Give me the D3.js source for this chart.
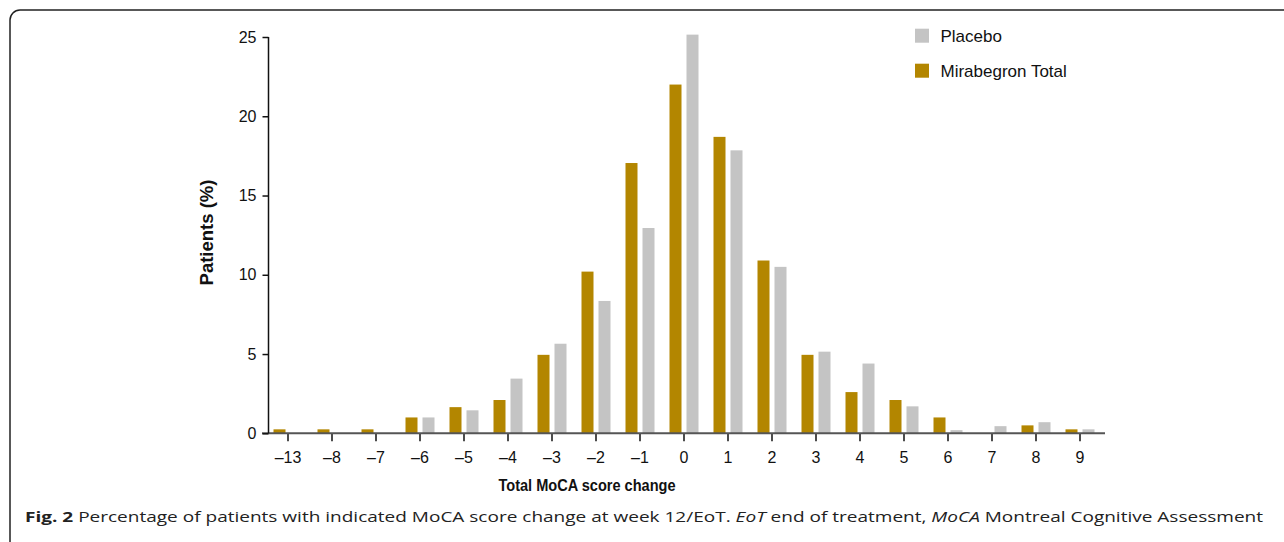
<!DOCTYPE html>
<html>
<head>
<meta charset="utf-8">
<script src="https://cdn.jsdelivr.net/npm/d3@7"></script>
<style>
  html, body { margin: 0; padding: 0; background: #fff; }
  svg { display: block; }
</style>
</head>
<body>
<script>
// ---- data ----
const categories = ["-13","-8","-7","-6","-5","-4","-3","-2","-1","0","1","2","3","4","5","6","7","8","9"];
const tickLabels = ["\u201313","\u20138","\u20137","\u20136","\u20135","\u20134","\u20133","\u20132","\u20131","0","1","2","3","4","5","6","7","8","9"];
const mirabegron = [0.25,0.25,0.25,1.0,1.65,2.1,4.95,10.2,17.05,22.0,18.7,10.9,4.95,2.6,2.1,1.0,0,0.5,0.25];
const placebo    = [0,0,0,1.0,1.45,3.45,5.65,8.35,12.95,25.15,17.85,10.5,5.15,4.4,1.7,0.2,0.45,0.7,0.25];
const yTicks = [0,5,10,15,20,25];
const seriesNames = ["Placebo","Mirabegron Total"];
const colors = {"Placebo":"#C4C4C4","Mirabegron Total":"#B38600"};

const W = 1284, H = 542;
const svg = d3.select("body").append("svg").attr("width", W).attr("height", H);

// frame
svg.append("rect").attr("x",10).attr("y",10).attr("width",1300).attr("height",560)
  .attr("rx",10).attr("ry",10).attr("fill","none").attr("stroke","#222").attr("stroke-width",1.5);

const x = d3.scaleBand().domain(categories).range([266,1102]).paddingInner(0).paddingOuter(0);
const y = d3.scaleLinear().domain([0,25]).range([433.3,37]);
const barW = 12, gap = 5;
const font = "'Liberation Sans', Arial, Helvetica, sans-serif";

// bars
const g = svg.append("g");
g.selectAll("rect.m").data(categories).join("rect").attr("class","m")
  .attr("x", (d)=> x(d) + x.bandwidth()/2 - gap/2 - barW)
  .attr("width", barW)
  .attr("y", (d,i)=> y(mirabegron[i]))
  .attr("height", (d,i)=> y(0) - y(mirabegron[i]))
  .attr("fill", colors["Mirabegron Total"]);
g.selectAll("rect.p").data(categories).join("rect").attr("class","p")
  .attr("x", (d)=> x(d) + x.bandwidth()/2 + gap/2)
  .attr("width", barW)
  .attr("y", (d,i)=> y(placebo[i]))
  .attr("height", (d,i)=> y(0) - y(placebo[i]))
  .attr("fill", colors["Placebo"]);

// x axis
const xAxis = d3.axisBottom(x).tickSize(8).tickPadding(10)
  .tickFormat((d,i)=> tickLabels[i]);
const gx = svg.append("g").attr("transform",`translate(0,${y(0)})`).call(xAxis);
gx.select(".domain").remove();
gx.append("line").attr("x1",262).attr("x2",1105).attr("y1",0).attr("y2",0)
  .attr("stroke","#555").attr("stroke-width",2);
gx.selectAll(".tick line").attr("stroke","#111").attr("stroke-width",1.5);
gx.selectAll(".tick text").attr("font-family",font).attr("font-size",16).attr("fill","#111");

// y axis
const yAxis = d3.axisLeft(y).tickValues(yTicks).tickSize(6).tickPadding(6).tickFormat(d3.format("d"));
const gy = svg.append("g").attr("transform","translate(268.5,0)").call(yAxis);
gy.select(".domain").attr("d", `M0,${y(25)}V${y(0)}`).attr("stroke","#111").attr("stroke-width",1.5);
gy.selectAll(".tick line").attr("stroke","#111").attr("stroke-width",1.5);
gy.selectAll(".tick text").attr("font-family",font).attr("font-size",16).attr("fill","#111");

// axis titles
svg.append("text").attr("x",587).attr("y",491).attr("text-anchor","middle")
  .attr("font-family",font).attr("font-weight","bold").attr("font-size",16)
  .attr("textLength",177).attr("lengthAdjust","spacingAndGlyphs").attr("fill","#111")
  .text("Total MoCA score change");
svg.append("text").attr("transform","translate(213,232.5) rotate(-90)").attr("text-anchor","middle")
  .attr("font-family",font).attr("font-weight","bold").attr("font-size",18.5).attr("fill","#111")
  .text("Patients (%)");

// legend
const leg = svg.append("g");
seriesNames.forEach((s,i)=>{
  const yy = 28.7 + i*35;
  leg.append("rect").attr("x",915).attr("y",yy).attr("width",14).attr("height",14).attr("fill",colors[s]);
  leg.append("text").attr("x",940.5).attr("y",yy+13.5).attr("font-family",font).attr("font-size",17)
    .attr("fill","#111").text(s);
});

// caption
const cap = svg.append("text").attr("x",25).attr("y",522)
  .attr("font-family","'Open Sans', 'Noto Sans', sans-serif").attr("font-size",15).attr("fill","#222")
  .attr("textLength",1238).attr("lengthAdjust","spacingAndGlyphs");
cap.append("tspan").attr("font-weight","bold").text("Fig. 2");
cap.append("tspan").text(" Percentage of patients with indicated MoCA score change at week 12/EoT. ");
cap.append("tspan").attr("font-style","italic").text("EoT");
cap.append("tspan").text(" end of treatment, ");
cap.append("tspan").attr("font-style","italic").text("MoCA");
cap.append("tspan").text(" Montreal Cognitive Assessment");
</script>
</body>
</html>
